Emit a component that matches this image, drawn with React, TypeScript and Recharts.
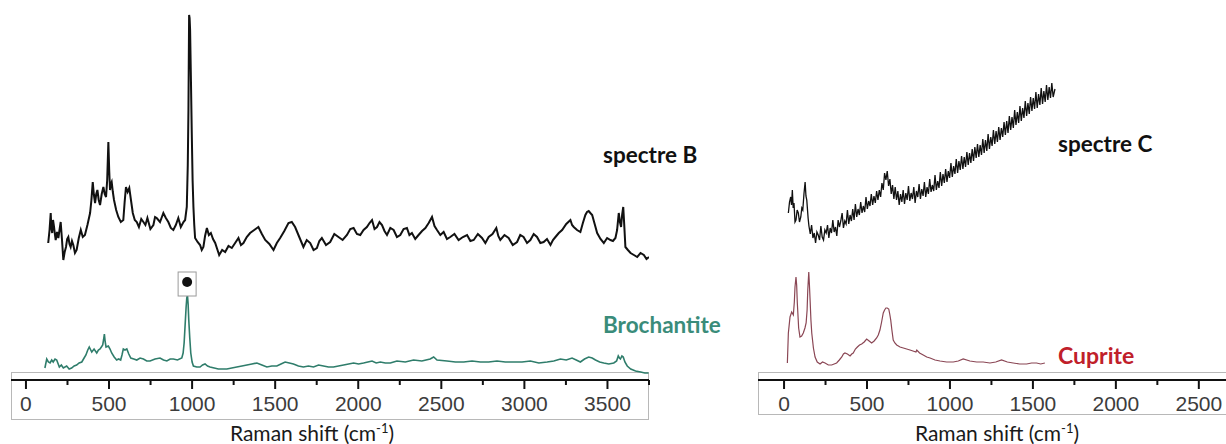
import React from 'react';
import { LineChart, Line, XAxis, YAxis, ReferenceDot } from 'recharts';

// Raman spectra: [shift (cm-1), relative intensity (stacked offset units)]
const spectreB: [number, number][] = [
  [134,137],[142,150],[149,167],[153,152],[158,147],[163,160],[169,153],[174,146],[179,140],[187,148],[195,142],[202,150],[209,158],[217,140],[225,120],[233,128],[241,133],[248,141],[255,143],[262,136],[269,133],[277,139],[285,135],[295,127],[305,130],[318,142],[330,150],[342,143],[355,145],[370,155],[386,167],[394,180],[402,198],[409,185],[416,177],[423,186],[430,190],[438,180],[446,175],[456,186],[466,193],[474,186],[482,183],[489,200],[496,238],[501,210],[506,190],[511,196],[516,198],[523,188],[530,180],[543,170],[556,163],[571,158],[586,160],[594,178],[602,193],[612,188],[622,192],[632,180],[643,167],[655,160],[667,158],[680,153],[694,161],[707,158],[719,155],[731,162],[749,151],[767,155],[777,163],[787,162],[807,158],[827,167],[842,162],[857,158],[872,152],[887,150],[902,155],[917,162],[932,153],[948,158],[958,160],[968,173],[974,215],[978,270],[982,365],[985,362],[988,350],[993,300],[998,247],[1003,200],[1008,173],[1013,155],[1018,142],[1033,138],[1048,135],[1058,130],[1068,133],[1078,144],[1089,152],[1101,145],[1113,147],[1126,141],[1139,137],[1151,131],[1163,125],[1181,130],[1199,128],[1219,134],[1239,132],[1259,137],[1279,142],[1294,135],[1309,137],[1329,143],[1349,147],[1374,150],[1399,153],[1420,146],[1440,140],[1465,136],[1490,130],[1510,137],[1530,142],[1555,149],[1580,157],[1600,158],[1620,153],[1645,143],[1670,133],[1690,140],[1711,137],[1731,130],[1751,132],[1766,139],[1781,142],[1806,135],[1831,138],[1856,146],[1881,143],[1906,140],[1932,145],[1952,151],[1972,152],[1992,146],[2012,145],[2032,150],[2052,153],[2068,157],[2083,160],[2098,151],[2113,153],[2128,158],[2143,155],[2158,149],[2173,145],[2193,152],[2213,150],[2233,143],[2253,145],[2273,151],[2293,152],[2308,145],[2323,147],[2343,141],[2363,145],[2384,149],[2404,152],[2424,157],[2444,163],[2459,154],[2474,150],[2494,145],[2514,148],[2534,141],[2554,143],[2579,146],[2604,140],[2630,143],[2655,145],[2675,139],[2695,140],[2720,146],[2745,142],[2765,137],[2785,143],[2808,146],[2831,152],[2843,144],[2855,140],[2880,145],[2905,142],[2930,135],[2956,138],[2975,145],[2995,143],[3016,137],[3036,140],[3056,146],[3076,143],[3096,137],[3116,138],[3136,141],[3157,135],[3172,140],[3187,143],[3207,147],[3227,150],[3252,156],[3277,160],[3287,155],[3297,153],[3317,150],[3337,148],[3352,157],[3367,165],[3377,168],[3387,169],[3397,167],[3408,165],[3423,156],[3438,147],[3458,141],[3478,137],[3498,142],[3518,140],[3533,139],[3548,142],[3558,150],[3568,167],[3575,158],[3582,153],[3588,165],[3595,173],[3601,155],[3608,133],[3623,130],[3639,127],[3659,125],[3679,123],[3699,127],[3719,125],[3735,121],[3750,123]
];

const brochantite: [number, number][] = [
  [114,12],[125,21],[135,18],[145,17],[155,20],[164,18],[175,21],[185,20],[201,13],[213,15],[225,12],[245,14],[260,11],[275,12],[290,14],[305,15],[320,17],[336,18],[350,22],[361,25],[372,30],[381,33],[396,28],[410,31],[426,27],[436,30],[446,31],[454,33],[462,35],[467,40],[472,46],[477,38],[482,33],[496,34],[506,31],[516,27],[531,23],[546,20],[558,21],[570,20],[578,25],[586,31],[596,30],[607,31],[619,26],[631,22],[649,21],[667,20],[687,22],[707,21],[727,19],[747,19],[777,21],[807,22],[828,20],[848,19],[868,21],[887,21],[912,20],[938,22],[946,27],[952,37],[958,55],[964,73],[968,82],[972,85],[976,76],[980,60],[986,42],[992,27],[1000,18],[1008,14],[1028,13],[1048,13],[1063,15],[1078,16],[1093,14],[1108,13],[1133,12],[1158,11],[1184,11],[1209,11],[1239,12],[1269,13],[1300,14],[1330,15],[1360,16],[1390,17],[1420,15],[1450,13],[1480,14],[1510,14],[1535,16],[1560,18],[1585,17],[1610,16],[1640,14],[1670,13],[1700,14],[1731,13],[1761,15],[1791,14],[1821,13],[1851,13],[1881,14],[1912,15],[1942,16],[1972,17],[2002,16],[2032,17],[2058,18],[2083,19],[2108,17],[2133,18],[2163,17],[2193,17],[2213,18],[2233,19],[2283,18],[2333,20],[2383,19],[2433,21],[2454,23],[2474,20],[2534,19],[2585,18],[2635,18],[2685,19],[2735,18],[2785,18],[2835,19],[2885,18],[2936,18],[2986,18],[3036,19],[3087,17],[3137,18],[3177,19],[3217,21],[3252,20],[3287,22],[3312,20],[3337,18],[3362,21],[3387,23],[3408,22],[3428,20],[3453,18],[3478,17],[3508,16],[3538,17],[3555,19],[3565,24],[3572,22],[3578,21],[3587,24],[3595,23],[3605,18],[3619,14],[3640,11],[3669,9],[3700,8],[3725,7],[3747,7]
];

const spectreC: [number, number][] = [
  [26,167],[33,178],[40,183],[45,175],[50,190],[55,172],[60,177],[66,158],[72,160],[79,170],[86,167],[93,158],[101,163],[107,172],[113,170],[120,186],[127,198],[132,184],[137,180],[145,162],
  [150,154],[158,146],[166,155],[174,142],[182,147],[190,137],[198,148],[206,145],[214,140],[222,154],[230,143],[238,140],[246,150],[254,147],[262,155],[270,142],[278,152],[286,147],[294,160],[302,148],
  [310,153],[318,144],[326,160],[334,153],[342,159],[350,167],[358,152],[366,159],[374,156],[382,170],[390,156],[398,165],[406,159],[414,171],[422,160],[430,176],[438,163],[446,171],[454,165],[462,178],
  [470,167],[478,174],[486,168],[494,183],[502,171],[510,179],[518,174],[526,186],[534,175],[542,184],[550,177],[558,189],[566,180],[574,190],[582,183],[590,197],[598,190],[606,207],[614,200],[622,209],
  [630,194],[638,201],[646,186],[654,195],[662,181],[670,193],[678,180],[686,189],[694,175],[702,186],[710,178],[718,190],[726,176],[734,187],[742,180],[750,194],[758,179],[766,187],[774,181],[782,193],
  [790,177],[798,189],[806,183],[814,196],[822,181],[830,191],[838,184],[846,198],[854,183],[862,193],[870,186],[878,201],[886,188],[894,195],[902,189],[910,205],[918,190],[926,199],[934,192],[942,208],
  [950,194],[958,206],[966,197],[974,211],[982,198],[990,209],[998,202],[1006,217],[1014,203],[1022,214],[1030,206],[1038,221],[1046,207],[1054,219],[1062,210],[1070,224],[1078,211],[1086,223],[1094,213],[1102,228],
  [1110,215],[1118,227],[1126,217],[1134,231],[1142,219],[1150,233],[1158,222],[1166,236],[1174,223],[1182,235],[1190,225],[1198,241],[1206,227],[1214,240],[1222,229],[1230,246],[1238,231],[1246,243],[1254,234],[1262,250],
  [1270,236],[1278,249],[1286,238],[1294,253],[1302,240],[1310,252],[1318,243],[1326,258],[1334,245],[1342,259],[1350,247],[1358,264],[1366,250],[1374,263],[1382,252],[1390,270],[1398,255],[1406,268],[1414,257],[1422,274],
  [1430,259],[1438,272],[1446,262],[1454,279],[1462,264],[1470,277],[1478,266],[1486,283],[1494,269],[1502,282],[1510,271],[1518,288],[1526,272],[1534,286],[1542,275],[1550,292],[1558,276],[1566,289],[1574,278],[1582,295],
  [1590,280],[1598,293],[1606,282],[1614,297],[1622,283],[1633,291]
];

const cuprite: [number, number][] = [
  [20,17],[26,47],[36,63],[46,68],[56,65],[62,78],[66,93],[72,103],[76,95],[80,77],[88,52],[96,43],[106,44],[116,47],[126,52],[133,57],[139,70],[143,90],[149,108],[153,95],[157,80],[162,60],[167,47],[177,32],[187,23],[200,18],[217,16],[232,18],[247,17],[267,15],[287,15],[302,16],[317,17],[333,20],[348,23],[358,26],[367,27],[382,26],[398,24],[408,26],[417,27],[430,31],[442,33],[455,35],[468,36],[483,38],[498,41],[513,39],[528,37],[543,39],[558,42],[568,45],[578,50],[588,58],[598,67],[606,70],[614,72],[622,72],[631,71],[637,66],[643,60],[650,50],[658,40],[668,37],[679,35],[699,33],[719,32],[739,31],[759,30],[777,29],[795,28],[800,30],[817,27],[839,25],[860,23],[880,22],[910,20],[940,19],[980,18],[1020,18],[1050,19],[1080,21],[1120,19],[1161,18],[1200,18],[1241,17],[1276,18],[1311,20],[1346,18],[1381,17],[1420,16],[1462,16],[1492,17],[1522,17],[1547,16],[1572,17]
];

const leftTicks = [0,250,500,750,1000,1250,1500,1750,2000,2250,2500,2750,3000,3250,3500,3750];
const rightTicks = [0,250,500,750,1000,1250,1500,1750,2000,2250,2500];
const markerPeak: [number, number] = [970, 98];

const toRows = (pts: [number, number][]) => pts.map(([x, y]) => ({ x, y }));

const TICK_FONT = '"Liberation Sans", Arial, sans-serif';
const TEXT_FONT = 'Lato, "Open Sans", sans-serif';

const AxisTick = (props: any) => {
  const { x, y, payload } = props;
  const v = payload.value as number;
  const major = v % 500 === 0;
  return (
    <g>
      <line x1={x} x2={x} y1={y} y2={y + (major ? 9 : 5)} stroke="#111" strokeWidth={2} />
      {major && (
        <text x={x} y={y + 31} textAnchor="middle" fontFamily={TICK_FONT} fontSize={21} fill="#3c3c3c">
          {v}
        </text>
      )}
    </g>
  );
};

const AxisTitle = ({ cx }: { cx: number }) => (
  <text x={cx} y={441} textAnchor="middle" fontFamily={TEXT_FONT} fontSize={21} fill="#1a1a1a">
    Raman shift (cm<tspan dy={-8} fontSize={13}>-1</tspan><tspan dy={8}>)</tspan>
  </text>
);

const MarkerShape = (props: any) => {
  const { cx, cy } = props;
  return (
    <g>
      <rect x={cx - 9} y={cy - 10} width={18} height={24} fill="#fff" stroke="#9a9a9a" strokeWidth={1} />
      <circle cx={cx} cy={cy} r={5} fill="#111" />
    </g>
  );
};

export default function App() {
  return (
    <div style={{ position: 'absolute', left: 0, top: 0, width: 1226, height: 444, overflow: 'hidden', background: '#fff' }}>
      <div style={{ position: 'absolute', left: 11, top: 372, width: 638, height: 48, border: '1px solid #b8b8b8', boxSizing: 'border-box' }} />
      <div style={{ position: 'absolute', left: 758, top: 372, width: 500, height: 43, border: '1px solid #b8b8b8', boxSizing: 'border-box' }} />

      <div style={{ position: 'absolute', left: 0, top: 0 }}>
        <LineChart width={740} height={444} margin={{ top: 0, right: 91, left: 11, bottom: 0 }}>
          <XAxis
            type="number"
            dataKey="x"
            domain={[-90, 3750]}
            allowDataOverflow
            ticks={leftTicks}
            interval={0}
            tickSize={0}
            tickMargin={0}
            tickLine={false}
            tick={AxisTick}
            axisLine={{ stroke: '#111', strokeWidth: 2 }}
            height={64}
          />
          <YAxis hide type="number" domain={[0, 380]} allowDataOverflow width={0} />
          <Line data={toRows(brochantite)} dataKey="y" type="linear" dot={false} stroke="#2f7d6b" strokeWidth={1.6} isAnimationActive={false} />
          <Line data={toRows(spectreB)} dataKey="y" type="linear" dot={false} stroke="#111" strokeWidth={2} isAnimationActive={false} />
          <ReferenceDot x={markerPeak[0]} y={markerPeak[1]} r={0} ifOverflow="visible" shape={MarkerShape} />
          <text x={603} y={163} fontFamily={TEXT_FONT} fontWeight={700} fontSize={22.5} fill="#111">spectre B</text>
          <text x={603} y={333} fontFamily={TEXT_FONT} fontWeight={700} fontSize={22.5} fill="#3a8c7a">Brochantite</text>
          <AxisTitle cx={312} />
        </LineChart>
      </div>

      <div style={{ position: 'absolute', left: 740, top: 0 }}>
        <LineChart width={500} height={444} margin={{ top: 0, right: 8, left: 18, bottom: 0 }}>
          <XAxis
            type="number"
            dataKey="x"
            domain={[-157, 2700]}
            allowDataOverflow
            ticks={rightTicks}
            interval={0}
            tickSize={0}
            tickMargin={0}
            tickLine={false}
            tick={AxisTick}
            axisLine={{ stroke: '#111', strokeWidth: 2 }}
            height={64}
          />
          <YAxis hide type="number" domain={[0, 380]} allowDataOverflow width={0} />
          <Line data={toRows(cuprite)} dataKey="y" type="linear" dot={false} stroke="#8a4654" strokeWidth={1.2} isAnimationActive={false} />
          <Line data={toRows(spectreC)} dataKey="y" type="linear" dot={false} stroke="#111" strokeWidth={1.3} isAnimationActive={false} />
          <text x={318} y={152} fontFamily={TEXT_FONT} fontWeight={700} fontSize={22.5} fill="#111">spectre C</text>
          <text x={318} y={364} fontFamily={TEXT_FONT} fontWeight={700} fontSize={23} fill="#c0202a">Cuprite</text>
          <AxisTitle cx={257} />
        </LineChart>
      </div>
    </div>
  );
}
